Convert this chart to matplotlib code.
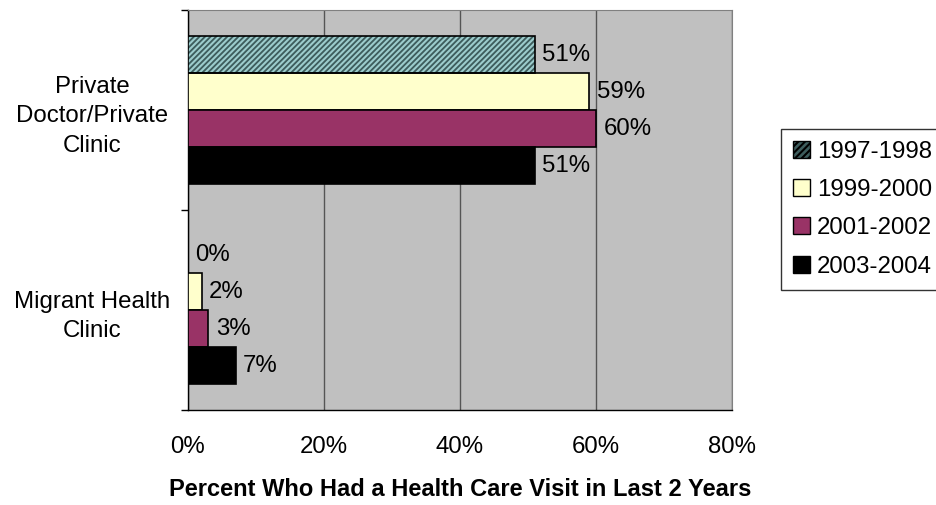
import numpy as np
import matplotlib
matplotlib.use("Agg")
import matplotlib.pyplot as plt
from matplotlib.patches import Patch

plt.rcParams['font.family'] = ['Liberation Sans', 'DejaVu Sans']
plt.rcParams['hatch.linewidth'] = 1.5

# data
categories = ["Migrant Health\nClinic", "Private\nDoctor/Private\nClinic"]
periods = ["1997-1998", "1999-2000", "2001-2002", "2003-2004"]
v1997 = [0, 51]
v1999 = [2, 59]
v2001 = [3, 60]
v2003 = [7, 51]
series = [v1997, v1999, v2001, v2003]

colors = ["#3d5c5c", "#ffffcc", "#993366", "#000000"]
hatch_color = "#9ccccc"
fs = 17.3

fig = plt.figure(figsize=(9.37, 5.05), dpi=100)
ax = fig.add_axes([0.2006, 0.188, 0.5805, 0.792])
ax.set_facecolor("#c0c0c0")

w = 0.185
offsets = [1.5 * w, 0.5 * w, -0.5 * w, -1.5 * w]
centers = np.arange(len(categories)) + 0.5

for k, vals in enumerate(series):
    y = centers + offsets[k]
    if k == 0:
        ax.barh(y, vals, height=w, color=colors[k], edgecolor=hatch_color,
                hatch="//////", linewidth=0, zorder=3)
        ax.barh(y, vals, height=w, fill=False, edgecolor="black",
                linewidth=1.2, zorder=4)
    else:
        ax.barh(y, vals, height=w, color=colors[k], edgecolor="black",
                linewidth=1.2, zorder=3)
    for yy, v in zip(y, vals):
        ax.text(v + 1.1, yy, f"{v}%", va="center", ha="left", fontsize=fs)

ax.set_xlim(0, 80)
ax.set_ylim(0, 2)
ax.set_xticks([0, 20, 40, 60, 80])
ax.set_xticklabels(["0%", "20%", "40%", "60%", "80%"], fontsize=fs)
ax.tick_params(axis="x", length=0, pad=19)
ax.grid(axis="x", color="#555555", linewidth=1, zorder=1)

ax.set_yticks(centers)
ax.set_yticklabels(categories, fontsize=fs, ha="center", linespacing=1.45)
ax.tick_params(axis="y", which="major", length=0, pad=69)
ax.set_yticks([0, 1, 2], minor=True)
ax.tick_params(axis="y", which="minor", length=5, width=1, direction="out")

for s in ["top", "right"]:
    ax.spines[s].set_color("#808080")
for s in ["left", "bottom"]:
    ax.spines[s].set_color("black")
    ax.spines[s].set_linewidth(1)

ax.set_xlabel("Percent Who Had a Health Care Visit in Last 2 Years",
              fontsize=17, fontweight="bold", labelpad=14)

handles = []
for k, p in enumerate(periods):
    if k == 0:
        handles.append(Patch(facecolor=colors[k], edgecolor="black", hatch="/////", label=p))
    else:
        handles.append(Patch(facecolor=colors[k], edgecolor="black", label=p))
leg = fig.legend(handles=handles, loc="center left", bbox_to_anchor=(0.8335, 0.586),
                 fontsize=fs, frameon=True, fancybox=False, edgecolor="black",
                 handlelength=0.7, handleheight=0.7, handletextpad=0.3,
                 labelspacing=0.68, borderpad=0.5, borderaxespad=0)
leg.get_frame().set_linewidth(1)

fig.savefig("out.png", dpi=100)
